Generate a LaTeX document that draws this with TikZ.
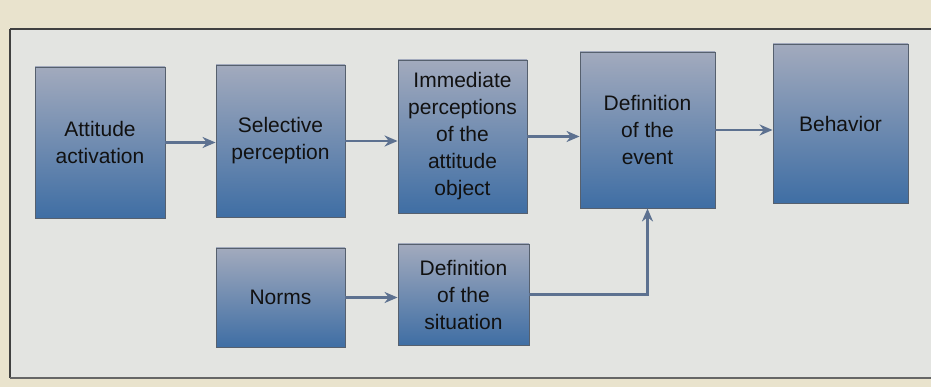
\documentclass[tikz,border=0pt]{standalone}
\usepackage{fontspec}
\setmainfont{Liberation Sans}
\usetikzlibrary{arrows.meta}
\definecolor{paper}{HTML}{E9E3CD}
\definecolor{panel}{HTML}{E3E4E1}
\definecolor{boxtop}{HTML}{A2AABD}
\definecolor{boxbot}{HTML}{3F6EA4}
\definecolor{boxline}{HTML}{56606E}
\definecolor{arrowc}{HTML}{5D7190}
\definecolor{inkc}{HTML}{111111}
\tikzset{
  x=1pt, y=-1pt,
  stagebox/.style={draw=boxline, line width=0.9pt, top color=boxtop, bottom color=boxbot,
    align=center, text=inkc, inner sep=2pt,
    font=\fontsize{21}{27}\selectfont},
  flow/.style={draw=arrowc, line width=2.2pt, -{Stealth[length=13pt,width=11pt]}}
}
\begin{document}
\begin{tikzpicture}
\useasboundingbox (0,0) rectangle (931,387);
\fill[paper] (0,0) rectangle (931,387);
\fill[panel] (10,29) rectangle (940,378);
\draw[black!75, line width=1.4pt] (10,29) -- (10,378);
\draw[black!75, line width=1.4pt] (10,29) -- (931,29);
\draw[black!60, line width=1.2pt] (10,378) -- (931,378);

\node[stagebox, minimum width=130, minimum height=151] (A) at (100,142.5) {Attitude\\activation};
\node[stagebox, minimum width=129, minimum height=152] (S) at (280.5,141) {Selective\\perception};
\node[stagebox, minimum width=129, minimum height=153] (I) at (462.5,136.5) {Immediate\\perceptions\\of the\\attitude\\object};
\node[stagebox, minimum width=135, minimum height=156] (E) at (647.5,130) {Definition\\of the\\event};
\node[stagebox, minimum width=135, minimum height=159] (B) at (840.5,123.5) {Behavior};
\node[stagebox, minimum width=129, minimum height=99] (N) at (280.5,297.5) {Norms};
\node[stagebox, minimum width=131, minimum height=101] (D) at (463.5,294.5) {Definition\\of the\\situation};

\draw[flow] (A.east) -- (A.east -| S.west);
\draw[flow] (S.east) -- (S.east -| I.west);
\draw[flow] (I.east) -- (I.east -| E.west);
\draw[flow] (E.east) -- (E.east -| B.west);
\draw[flow] (N.east) -- (N.east -| D.west);
\draw[flow] (D.east) -| (E.south);
\end{tikzpicture}
\end{document}
